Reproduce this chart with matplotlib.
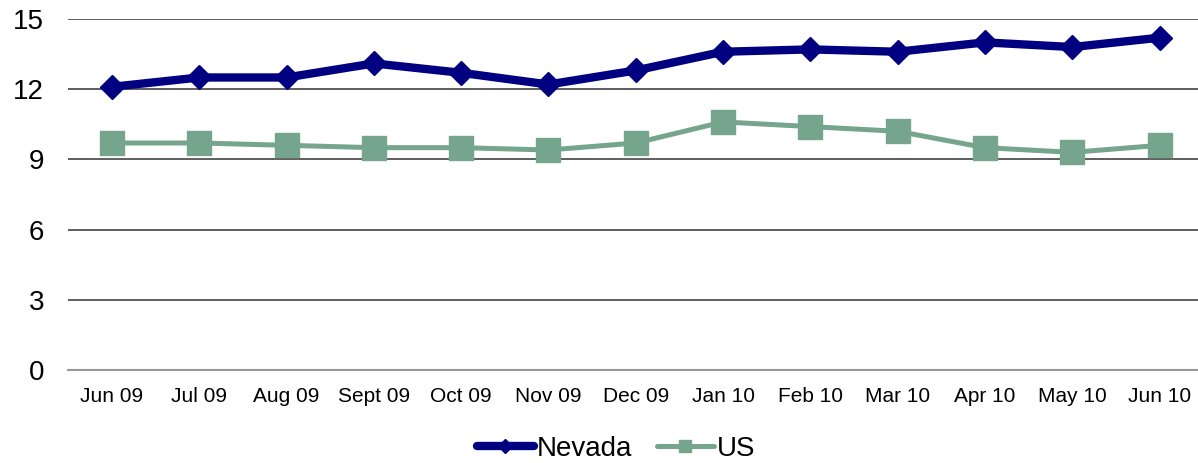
import matplotlib
matplotlib.use("Agg")
import matplotlib.pyplot as plt

months = ["Jun 09", "Jul 09", "Aug 09", "Sept 09", "Oct 09", "Nov 09", "Dec 09",
          "Jan 10", "Feb 10", "Mar 10", "Apr 10", "May 10", "Jun 10"]
nevada = [12.1, 12.5, 12.5, 13.1, 12.7, 12.2, 12.8, 13.6, 13.7, 13.6, 14.0, 13.8, 14.2]
us = [9.7, 9.7, 9.6, 9.5, 9.5, 9.4, 9.7, 10.6, 10.4, 10.2, 9.5, 9.3, 9.6]
yticks = [0, 3, 6, 9, 12, 15]

plt.rcParams['font.family'] = ['Liberation Sans', 'DejaVu Sans']

fig = plt.figure(figsize=(11.98, 4.63), dpi=100)
ax = fig.add_axes([0.057, 0.201, 0.943, 0.758])

x = list(range(len(months)))
ax.plot(x, nevada, color='#000080', lw=6, marker='D', markersize=12.5,
        label='Nevada', solid_capstyle='round', zorder=4)
ax.plot(x, us, color='#76A58D', lw=3.6, marker='s', markersize=17,
        label='US', solid_capstyle='round', zorder=3)

ax.set_xlim(-0.5, 12.44)
ax.set_ylim(0, 15)
ax.set_yticks(yticks)
ax.set_xticks(x)
ax.set_xticklabels(months, fontsize=15)
ax.tick_params(axis='y', labelsize=20, length=0, pad=17.5)
ax.tick_params(axis='x', length=0, pad=12)

for yv in yticks[1:]:
    ax.axhline(yv, color='#333333', lw=1.1, zorder=1)

for s in ['top', 'right', 'left']:
    ax.spines[s].set_visible(False)
ax.spines['bottom'].set_color('#999999')
ax.spines['bottom'].set_linewidth(1.5)

leg = fig.legend(loc='center', bbox_to_anchor=(0.514, 0.031), ncol=2, frameon=False,
                 fontsize=20, handlelength=2.05, handletextpad=0.1, columnspacing=0.9,
                 markerscale=0.55)

fig.savefig('out.png', dpi=100)
